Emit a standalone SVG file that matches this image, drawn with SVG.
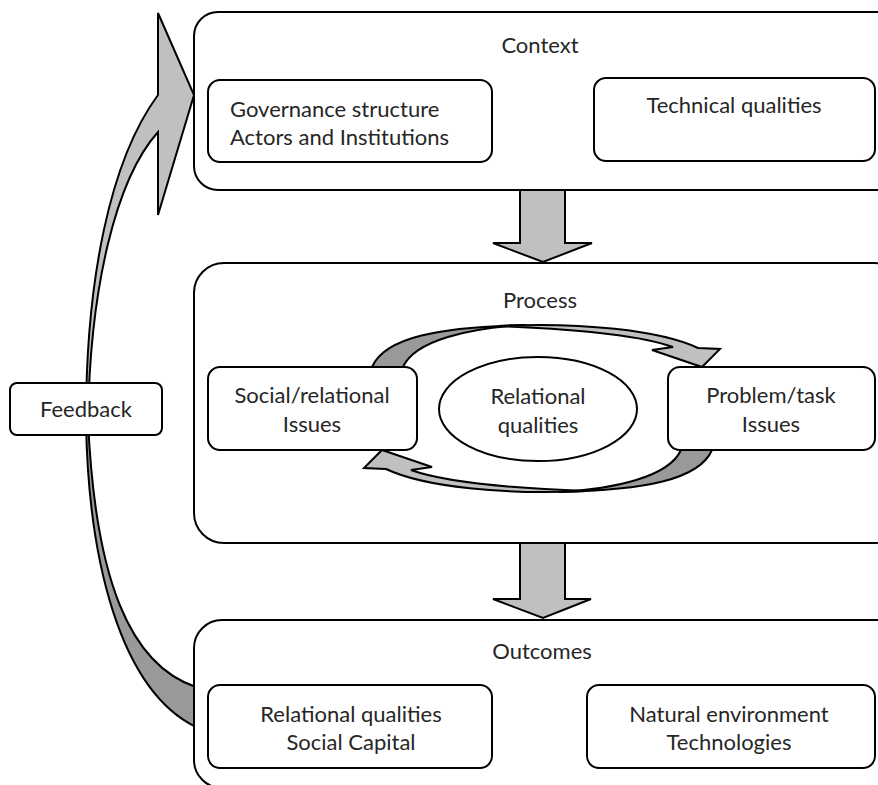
<svg xmlns="http://www.w3.org/2000/svg" width="878" height="785" viewBox="0 0 878 785">
<style>
  .outer { fill: #fff; stroke: #000; stroke-width: 2; }
  .inner { fill: #fff; stroke: #000; stroke-width: 2; }
  .lt { fill: #c0c0c0; stroke: #000; stroke-width: 2; stroke-linejoin: miter; }
  .dk { fill: #999; stroke: #000; stroke-width: 2; stroke-linejoin: round; }
  text { font-family: Lato, "Open Sans", "Liberation Sans", sans-serif; font-size: 22px; fill: #262626; }
  .c { text-anchor: middle; }
</style>
<rect width="878" height="785" fill="#fff"/>

<g id="connectors">
  <!-- feedback curved arrow: lower dark part -->
  <path class="dk" d="M86,420 C88,560 120,690 196,727 L196,687 C130,665 95,580 88,420 Z"/>
  <!-- feedback curved arrow: upper light part with head -->
  <path class="lt" d="M86,420 C86,280 110,160 158,95 L158,13 L194,95 L158,215 L158,132 C115,180 90,290 88,420 Z"/>
  <!-- down arrow context -> process -->
  <path class="lt" d="M520,190 L565,190 L565,243 L592,243 L543,262 L493,243 L520,243 Z"/>
  <!-- down arrow process -> outcomes -->
  <path class="lt" d="M520,543 L565,543 L565,599 L591,599 L543,618 L493,599 L520,599 Z"/>
</g>

<g id="context">
  <rect class="outer" x="194" y="12" width="710" height="178" rx="24"/>
  <text class="c" x="540" y="53">Context</text>
</g>
<g id="governance">
  <rect class="inner" x="208" y="80" width="284" height="82" rx="12"/>
  <text x="230" y="117">Governance structure</text>
  <text x="230" y="145">Actors and Institutions</text>
</g>
<g id="technical">
  <rect class="inner" x="594" y="78" width="281" height="83" rx="12"/>
  <text class="c" x="734" y="113">Technical qualities</text>
</g>

<g id="process">
  <rect class="outer" x="194" y="263" width="710" height="280" rx="30"/>
  <text class="c" x="540" y="308">Process</text>
</g>

<g id="cycle-arrows">
  <g id="cycle-top">
    <path class="dk" d="M372,367 C385,337 440,327 525,325 C470,328 415,340 403,367 Z"/>
    <path class="lt" d="M498,326 C580,322 660,330 698,348 L720,349 L702,367 L652,350 L673,347 C640,335 580,329 498,326 Z"/>
  </g>
  <g id="cycle-bottom" transform="rotate(180 542 408.5)">
    <path class="dk" d="M372,367 C385,337 440,327 525,325 C470,328 415,340 403,367 Z"/>
    <path class="lt" d="M498,326 C580,322 660,330 698,348 L720,349 L702,367 L652,350 L673,347 C640,335 580,329 498,326 Z"/>
  </g>
</g>

<g id="social">
  <rect class="inner" x="208" y="367" width="209" height="83" rx="12"/>
  <text class="c" x="312" y="403">Social/relational</text>
  <text class="c" x="312" y="432">Issues</text>
</g>
<g id="relational-process">
  <ellipse class="inner" cx="538" cy="409" rx="99" ry="52"/>
  <text class="c" x="538" y="404">Relational</text>
  <text class="c" x="538" y="433">qualities</text>
</g>
<g id="problem">
  <rect class="inner" x="668" y="367" width="207" height="83" rx="12"/>
  <text class="c" x="771" y="403">Problem/task</text>
  <text class="c" x="771" y="432">Issues</text>
</g>

<g id="outcomes">
  <rect class="outer" x="194" y="620" width="710" height="168" rx="28"/>
  <text class="c" x="542" y="659">Outcomes</text>
</g>
<g id="relational-outcome">
  <rect class="inner" x="208" y="685" width="284" height="83" rx="12"/>
  <text class="c" x="351" y="722">Relational qualities</text>
  <text class="c" x="351" y="750">Social Capital</text>
</g>
<g id="natural">
  <rect class="inner" x="587" y="685" width="288" height="83" rx="12"/>
  <text class="c" x="729" y="722">Natural environment</text>
  <text class="c" x="729" y="750">Technologies</text>
</g>

<g id="feedback">
  <rect class="inner" x="10" y="383" width="152" height="52" rx="7"/>
  <text class="c" x="86" y="417">Feedback</text>
</g>
</svg>
